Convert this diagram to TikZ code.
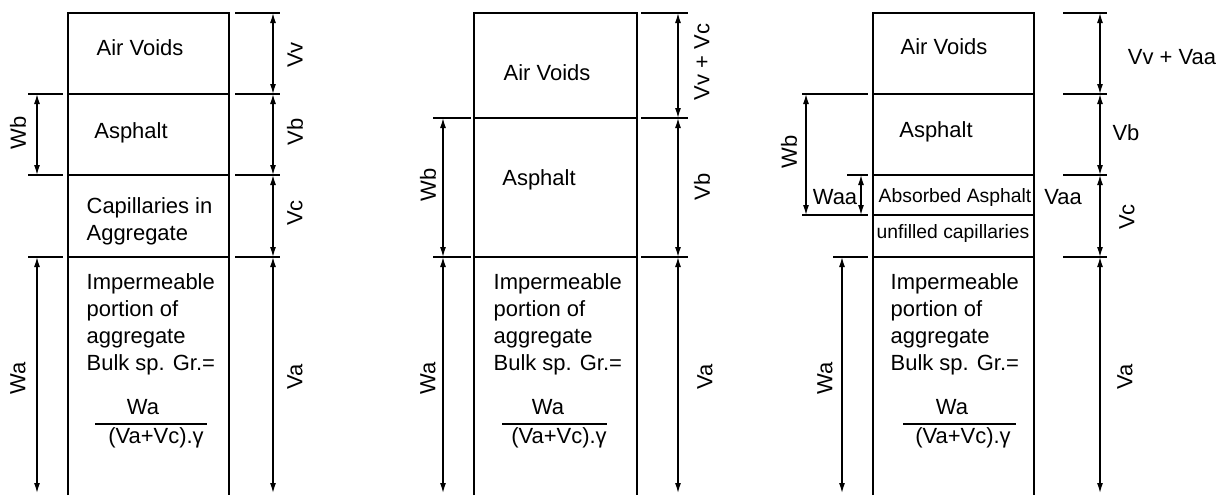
\documentclass[tikz,border=0pt]{standalone}
\usepackage{fontspec}
\setmainfont{Liberation Sans}
\usetikzlibrary{arrows.meta,positioning,calc}

\begin{document}
\begin{tikzpicture}[x=0.02cm,y=-0.02cm,line width=0.75pt,
 font=\fontsize{12.5}{15.3}\selectfont,
 txt/.style={inner sep=0pt},
 blk/.style={inner sep=0pt,anchor=north west,align=left},
 small/.style={inner sep=0pt,font=\fontsize{11}{13}\selectfont},
 vlab/.style={inner sep=0pt,rotate=90},
 dim/.style={{Latex[length=2mm,width=1.2mm]}-{Latex[length=2mm,width=1.2mm]}}]
\useasboundingbox (0,0) rectangle (1224,495);

% left column: with capillaries
\draw (68,495) |- (229,13) -- (229,495);
\foreach \y in {94,175,257} \draw (68,\y) -- (229,\y);
\foreach \y in {94,175,257} \draw (28,\y) -- (63,\y);
\foreach \y in {13,94,175,257} \draw (235,\y) -- (280,\y);
\coordinate (wb1) at (37,94);  \coordinate (wb2) at (37,175);
\coordinate (wa1) at (37,257); \coordinate (wa2) at (37,493);
\coordinate (v1) at (273,13);  \coordinate (v2) at (273,94);
\coordinate (v3) at (273,175); \coordinate (v4) at (273,257);
\coordinate (v5) at (273,493);
\draw[dim] (wb1)--(wb2);
\draw[dim] (wa1)--(wa2);
\draw[dim] (v1)--(v2);
\draw[dim] (v2)--(v3);
\draw[dim] (v3)--(v4);
\draw[dim] (v4)--(v5);
\node[txt] (air1) at (140,48) {Air Voids};
\node[txt] (asp1) at (131,133) {Asphalt};
\node[blk] (cap1) at (86,197) {Capillaries in\\Aggregate};
\node[blk] (imp1) at (86,273) {Impermeable\\portion of\\aggregate\\Bulk sp. Gr.=};
\node[txt] (num1) at (143,407) {Wa};
\node[txt] (den1) at (156,438) {(Va+Vc).γ};
\coordinate (bar1a) at (95,424); \coordinate (bar1b) at (207,424);
\draw (bar1a)--(bar1b);
\node[vlab] (lwb1) at (18,133) {Wb};
\node[vlab] (lwa1) at (18,378) {Wa};
\node[vlab] (lvv1) at (295,55) {Vv};
\node[vlab] (lvb1) at (295,132) {Vb};
\node[vlab] (lvc1) at (295,213) {Vc};
\node[vlab] (lva1) at (295,377) {Va};

% middle column: capillaries counted as voids
\draw (474,495) |- (637,13) -- (637,495);
\foreach \y in {118,257} \draw (474,\y) -- (637,\y);
\foreach \y in {118,257} \draw (433,\y) -- (471,\y);
\foreach \y in {13,118,257} \draw (641,\y) -- (688,\y);
\coordinate (wb3) at (443,118); \coordinate (wb4) at (443,257);
\coordinate (wa3) at (443,257); \coordinate (wa4) at (443,493);
\coordinate (u1) at (678,13);  \coordinate (u2) at (678,118);
\coordinate (u3) at (678,257); \coordinate (u4) at (678,493);
\draw[dim] (wb3)--(wb4);
\draw[dim] (wa3)--(wa4);
\draw[dim] (u1)--(u2);
\draw[dim] (u2)--(u3);
\draw[dim] (u3)--(u4);
\node[txt] (air2) at (547,73) {Air Voids};
\node[txt] (asp2) at (539,180) {Asphalt};
\node[blk] (imp2) at (493,273) {Impermeable\\portion of\\aggregate\\Bulk sp. Gr.=};
\node[txt] (num2) at (548,407) {Wa};
\node[txt] (den2) at (559,438) {(Va+Vc).γ};
\coordinate (bar2a) at (502,424); \coordinate (bar2b) at (607,424);
\draw (bar2a)--(bar2b);
\node[vlab] (lwb2) at (428,185) {Wb};
\node[vlab] (lwa2) at (428,378) {Wa};
\node[vlab] (lvv2) at (702,62) {Vv + Vc};
\node[vlab] (lvb2) at (702,187) {Vb};
\node[vlab] (lva2) at (705,377) {Va};

% right column: absorbed asphalt
\draw (873,495) |- (1034,13) -- (1034,495);
\foreach \y in {94,175,215,257} \draw (873,\y) -- (1034,\y);
\foreach \y in {94,215} \draw (802,\y) -- (868,\y);
\draw (847,175) -- (868,175);
\draw (833,257) -- (868,257);
\foreach \y in {13,94,175,257} \draw (1063,\y) -- (1107,\y);
\coordinate (wb5) at (806,94);   \coordinate (wb6) at (806,215);
\coordinate (waa1) at (861,175); \coordinate (waa2) at (861,215);
\coordinate (wa5) at (842,257);  \coordinate (wa6) at (842,493);
\coordinate (t1) at (1100,13);  \coordinate (t2) at (1100,94);
\coordinate (t3) at (1100,175); \coordinate (t4) at (1100,257);
\coordinate (t5) at (1100,493);
\draw[dim] (wb5)--(wb6);
\draw[dim] (waa1)--(waa2);
\draw[dim] (wa5)--(wa6);
\draw[dim] (t1)--(t2);
\draw[dim] (t2)--(t3);
\draw[dim] (t3)--(t4);
\draw[dim] (t4)--(t5);
\node[txt] (air3) at (944,47) {Air Voids};
\node[txt] (asp3) at (936,132) {Asphalt};
\node[small] (abs3) at (955,197) {Absorbed Asphalt};
\node[small] (unf3) at (953,233) {unfilled capillaries};
\node[blk] (imp3) at (890,273) {Impermeable\\portion of\\aggregate\\Bulk sp. Gr.=};
\node[txt] (num3) at (952,407) {Wa};
\node[txt] (den3) at (963,438) {(Va+Vc).γ};
\coordinate (bar3a) at (903,424); \coordinate (bar3b) at (1016,424);
\draw (bar3a)--(bar3b);
\node[vlab] (lwb3) at (789,152) {Wb};
\node[txt] (lwaa3) at (835,197) {Waa};
\node[vlab] (lwa3) at (825,378) {Wa};
\node[txt] (lvv3) at (1172,57) {Vv + Vaa};
\node[txt] (lvb3) at (1126,133) {Vb};
\node[txt] (lvaa3) at (1063,197) {Vaa};
\node[vlab] (lvc3) at (1127,217) {Vc};
\node[vlab] (lva3) at (1125,377) {Va};
\end{tikzpicture}
\end{document}
